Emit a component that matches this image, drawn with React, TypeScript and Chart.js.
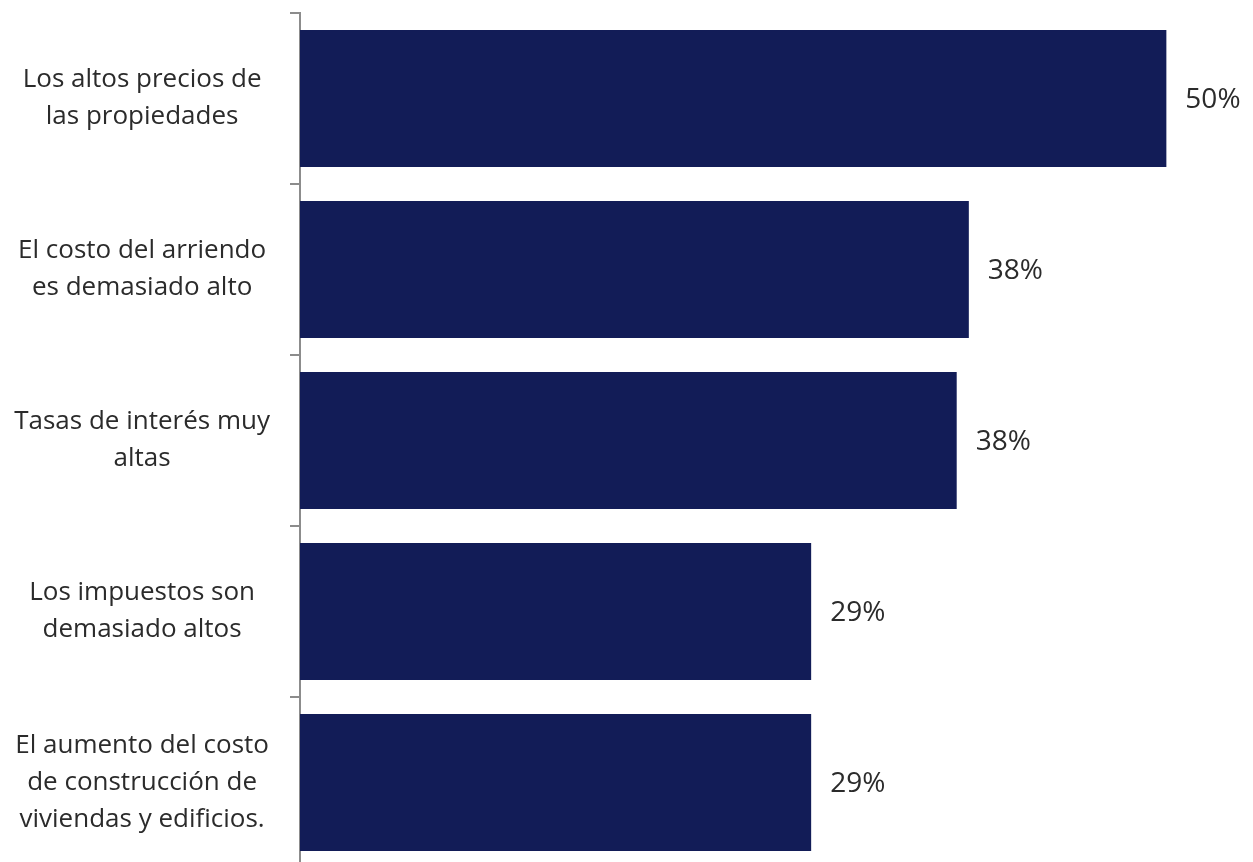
import React, { useEffect, useRef } from "react";
import { Chart, registerables } from "chart.js";

Chart.register(...registerables);

const categories: string[][] = [
  ["Los altos precios de", "las propiedades"],
  ["El costo del arriendo", "es demasiado alto"],
  ["Tasas de interés muy", "altas"],
  ["Los impuestos son", "demasiado altos"],
  ["El aumento del costo", "de construcción de", "viviendas y edificios."],
];
const values: number[] = [50, 38.6, 37.9, 29.5, 29.5];
const valueLabels: string[] = ["50%", "38%", "38%", "29%", "29%"];

const FONT = "'Open Sans', 'Noto Sans', sans-serif";
const TEXT = "#2b2b2b";
const BAR = "#121c57";
const AXIS = "#8c8c8c";

export default function App() {
  const ref = useRef<HTMLCanvasElement | null>(null);
  useEffect(() => {
    if (!ref.current) return;
    const labelPlugin = {
      id: "valueLabels",
      afterDatasetsDraw(chart: any) {
        const ctx = chart.ctx;
        const meta = chart.getDatasetMeta(0);
        ctx.save();
        ctx.font = `28px ${FONT}`;
        ctx.fillStyle = TEXT;
        ctx.textAlign = "left";
        ctx.textBaseline = "middle";
        meta.data.forEach((el: any, i: number) => {
          ctx.fillText(valueLabels[i], el.x + 19, el.y + 2);
        });
        ctx.restore();
      },
    };
    const chart = new Chart(ref.current, {
      type: "bar",
      data: {
        labels: categories,
        datasets: [
          {
            data: values,
            backgroundColor: BAR,
            borderWidth: 0,
            barPercentage: 0.8,
            categoryPercentage: 1,
          },
        ],
      },
      options: {
        indexAxis: "y",
        responsive: false,
        animation: false,
        layout: { padding: { top: 13, bottom: 2, left: 0, right: 0 } },
        plugins: {
          legend: { display: false },
          tooltip: { enabled: false },
        },
        scales: {
          x: {
            display: false,
            min: 0,
            max: 55,
          },
          y: {
            afterFit(scale: any) {
              scale.width = 300;
              scale.paddingTop = 0;
              scale.paddingBottom = 0;
            },
            border: { display: true, color: AXIS, width: 2 },
            grid: {
              offset: true,
              drawOnChartArea: false,
              drawTicks: true,
              tickLength: 10,
              color: AXIS,
              lineWidth: 2,
            },
            ticks: {
              crossAlign: "center",
              padding: 20,
              color: TEXT,
              font: { family: FONT, size: 26, lineHeight: 1.42 },
            },
          },
        },
      },
      plugins: [labelPlugin],
    } as any);
    return () => chart.destroy();
  }, []);
  return (
    <div style={{ position: "fixed", left: 0, top: 0, width: 1253, height: 870, background: "#fff" }}>
      <canvas ref={ref} width={1253} height={870} style={{ display: "block" }} />
    </div>
  );
}
